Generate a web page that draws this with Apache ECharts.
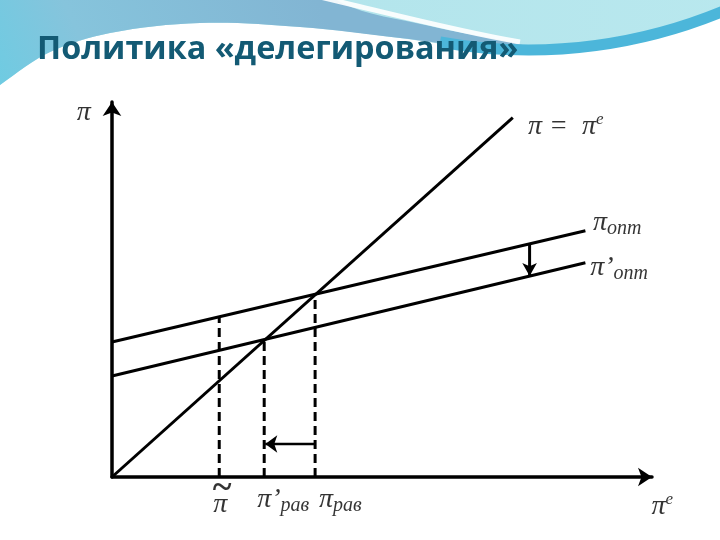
<!DOCTYPE html>
<html>
<head>
<meta charset="utf-8">
<script src="https://cdn.jsdelivr.net/npm/echarts@6/dist/echarts.min.js"></script>
<style>
  html, body { margin: 0; padding: 0; background: #fff; }
  #chart { width: 720px; height: 540px; }
</style>
</head>
<body>
<div id="chart"></div>
<script>
const slideTitle = 'Политика «делегирования»';

// pi^e on x, pi on y (same units, so pi = pi^e is the 45 degree line)
const diagonal = [[0, 0], [7.4, 7.4]];
const optLine = [[0, 2.78], [8.74, 5.07]];
const optLineNew = [[0, 2.08], [8.74, 4.41]];

// dashed drop lines: [x, height]
const dropLines = [[1.98, 3.30], [2.81, 2.84], [3.75, 3.77]];

// arrows: [tail, tip]
const shiftArrow = [[3.75, 0.68], [2.83, 0.68]];
const downArrow = [[7.71, 4.80], [7.71, 4.14]];

// math labels, anchored at their left-middle
const labelPos = [[-0.65, 7.50], [7.68, 7.21], [8.88, 5.23], [8.83, 4.30],
                  [1.87, -0.56], [1.86, -0.25], [2.68, -0.47], [3.82, -0.47], [9.96, -0.62]];
const labelText = [
  '{p|π}',
  '{p|π =\u2002π}{sup|e}',
  '{p|π}{sub|опт}',
  '{p|π’}{sub|опт}',
  '{p|π}',
  '{t|~}',
  '{p|π’}{sub|рав}',
  '{p|π}{sub|рав}',
  '{p|π}{sup2|e}'
];

const serif = '"Liberation Serif", "DejaVu Serif", serif';
const ink = '#000';

const chart = echarts.init(document.getElementById('chart'));

function lineSeries(data, extra) {
  return Object.assign({
    type: 'line',
    data: data,
    symbol: 'none',
    silent: true,
    lineStyle: { color: ink, width: 3 }
  }, extra || {});
}

function grad(x, y, x2, y2, stops) {
  return { type: 'linear', x: x, y: y, x2: x2, y2: y2, global: false,
    colorStops: stops.map(s => ({ offset: s[0], color: s[1] })) };
}

const series = [
  lineSeries(diagonal),
  lineSeries(optLine),
  lineSeries(optLineNew)
];

dropLines.forEach(d => {
  series.push(lineSeries([[d[0], 0], [d[0], d[1]]], {
    lineStyle: { color: ink, width: 3, type: [9, 5] }
  }));
});

series.push(lineSeries([
  shiftArrow[0],
  { value: shiftArrow[1], symbol: 'arrow', symbolSize: [13, 12], symbolRotate: 90 }
], { showSymbol: true, lineStyle: { color: ink, width: 2.5 }, itemStyle: { color: ink } }));

series.push(lineSeries([
  downArrow[0],
  { value: downArrow[1], symbol: 'arrow', symbolSize: [11, 13], symbolRotate: 180 }
], { showSymbol: true, lineStyle: { color: ink, width: 3 }, itemStyle: { color: ink } }));

const txt = { fontFamily: serif, fontStyle: 'italic', color: ink };

series.push({
  type: 'scatter',
  silent: true,
  clip: false,
  symbolSize: 0,
  data: labelPos.map((p, i) => ({ value: p, text: labelText[i] })),
  label: {
    show: true,
    position: [0, 0],
    align: 'left',
    verticalAlign: 'middle',
    color: ink,
    formatter: p => p.data.text,
    rich: {
      p: Object.assign({ fontSize: 28, lineHeight: 32 }, txt),
      t: { fontFamily: serif, fontSize: 36, fontWeight: 'bold', lineHeight: 20, color: ink },
      sup: Object.assign({ fontSize: 17, lineHeight: 22, verticalAlign: 'top' }, txt),
      sup2: Object.assign({ fontSize: 17, lineHeight: 16, verticalAlign: 'top' }, txt),
      sub: Object.assign({ fontSize: 20, lineHeight: 14, verticalAlign: 'bottom' }, txt)
    }
  }
});

const axisCommon = {
  type: 'value',
  min: 0,
  axisLine: {
    show: true,
    symbol: ['none', 'arrow'],
    symbolSize: [14, 14],
    lineStyle: { color: ink, width: 3.5 }
  },
  axisTick: { show: false },
  axisLabel: { show: false },
  splitLine: { show: false }
};

chart.setOption({
  animation: false,
  backgroundColor: '#fff',
  grid: { left: 112, top: 102, width: 540, height: 375 },
  xAxis: Object.assign({}, axisCommon, { max: 9.97 }),
  yAxis: Object.assign({}, axisCommon, { max: 7.72 }),
  graphic: [
    {
      type: 'polygon', z: -10, silent: true,
      shape: { smooth: 0.35, points: [[-40, -40], [760, -40], [740, 4], [690, 22], [640, 38],
        [580, 50], [530, 53], [470, 48], [400, 38], [300, 27], [200, 23], [110, 33], [50, 52], [-40, 100]] },
      style: { fill: grad(0, 0, 1, 0, [[0, '#aee2ea'], [1, '#b9e8ee']]) }
    },
    {
      type: 'polygon', z: -9, silent: true,
      shape: { smooth: 0.35, points: [[-40, -40], [300, -40], [340, 2], [430, 26], [525, 46],
        [470, 46], [400, 38], [300, 27], [200, 23], [110, 33], [50, 52], [-40, 100]] },
      style: { fill: grad(0.6, 0, 0, 1, [[0, '#82b5d3'], [0.6, '#86c4dc'], [1, '#5fd0e6']]) }
    },
    {
      type: 'bezierCurve', z: -8, silent: true,
      shape: { x1: 320, y1: -3, cpx1: 400, cpy1: 16, cpx2: 460, cpy2: 32, x2: 520, y2: 42 },
      style: { fill: null, stroke: '#ffffff', lineWidth: 5, opacity: 0.9 }
    },
    {
      type: 'bezierCurve', z: -8, silent: true,
      shape: { x1: 440, y1: 42, cpx1: 550, cpy1: 62, cpx2: 650, cpy2: 42, x2: 726, y2: 10 },
      style: { fill: null, stroke: '#4cb6da', lineWidth: 11 }
    },
    {
      type: 'text', z: 10, silent: true,
      style: {
        x: 37, y: 50, text: slideTitle,
        font: 'bold 32.4px "Open Sans", "Noto Sans", sans-serif',
        fill: '#135a74', verticalAlign: 'middle'
      }
    }
  ],
  series: series
});
</script>
</body>
</html>
